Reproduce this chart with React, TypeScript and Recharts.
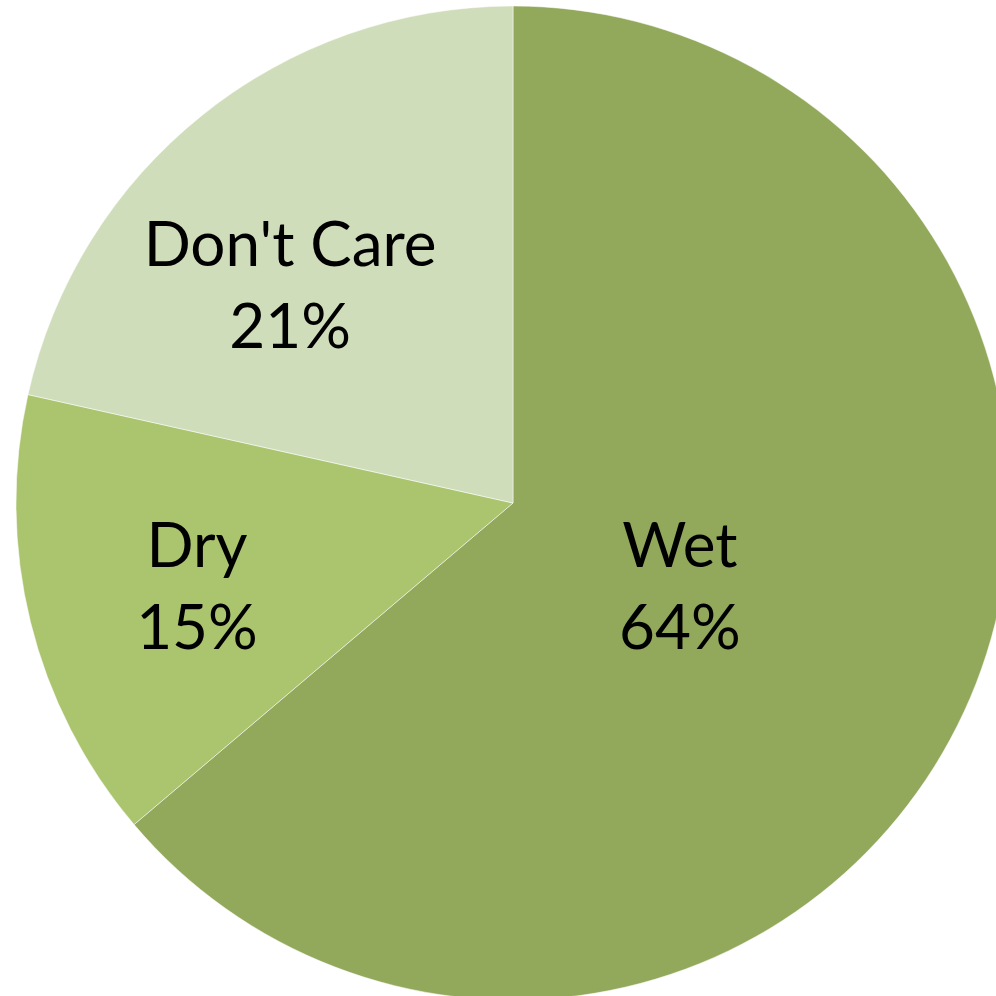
import React from "react";
import { PieChart, Pie, Cell } from "recharts";

const categories = ["Wet", "Dry", "Don't Care"];
const values = [63.8, 14.7, 21.5];
const percentLabels = ["64%", "15%", "21%"];

const colors = ["#92A85B", "#ABC46E", "#D0DDBB"];
// label placement: [radius fraction, angle shift in degrees]
const labelPlacement: [number, number][] = [
  [0.397, -7.4],
  [0.67, 4.5],
  [0.597, 10.0],
];

const data = categories.map((name, i) => ({ name, value: values[i], pct: percentLabels[i] }));

const RAD = Math.PI / 180;
const FONT = 62;

const renderLabel = (props: any) => {
  const { cx, cy, midAngle, outerRadius, index } = props;
  const [f, shift] = labelPlacement[index];
  const a = (midAngle + shift) * RAD;
  const r = outerRadius * f;
  const x = cx + r * Math.cos(-a);
  const y = cy + r * Math.sin(-a);
  return (
    <text
      x={x}
      y={y}
      textAnchor="middle"
      fill="#000"
      fontFamily="Lato, 'Open Sans', sans-serif"
      fontSize={FONT}
    >
      <tspan x={x} y={y - 41}>{data[index].name}</tspan>
      <tspan x={x} y={y + 41}>{data[index].pct}</tspan>
    </text>
  );
};

export default function App() {
  return (
    <div style={{ position: "absolute", left: 0, top: 0, width: 996, height: 996, background: "#fff" }}>
      <PieChart width={996} height={996} margin={{ top: 0, right: 0, bottom: 0, left: 0 }}>
        <Pie
          data={data}
          dataKey="value"
          nameKey="name"
          cx={513}
          cy={503}
          outerRadius={497}
          startAngle={90}
          endAngle={-270}
          stroke="#ffffff"
          strokeOpacity={0.5}
          strokeWidth={1}
          isAnimationActive={false}
          label={renderLabel}
          labelLine={false}
        >
          {data.map((d, i) => (
            <Cell key={d.name} fill={colors[i]} />
          ))}
        </Pie>
      </PieChart>
    </div>
  );
}
